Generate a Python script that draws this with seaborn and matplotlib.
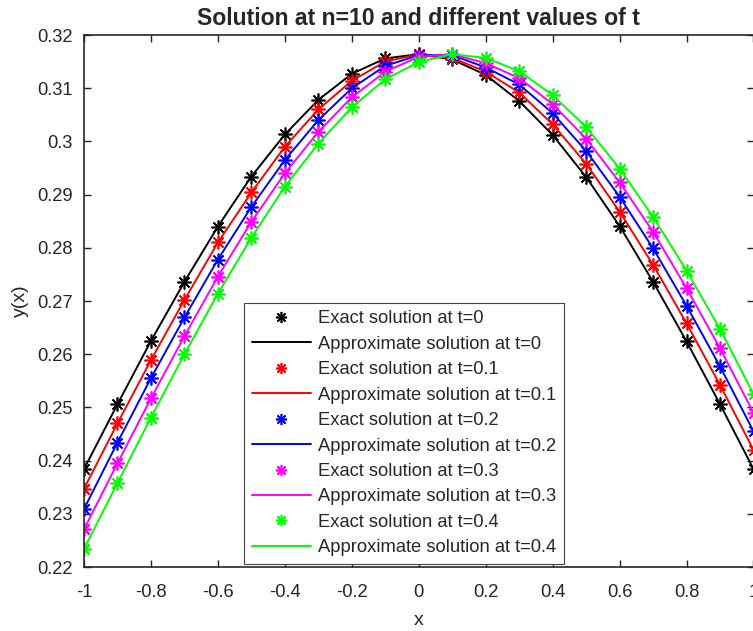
import numpy as np
import pandas as pd
import matplotlib
matplotlib.use("Agg")
import matplotlib.pyplot as plt
import seaborn as sns

x_vals = [-1.0, -0.9, -0.8, -0.7, -0.6, -0.5, -0.4, -0.3, -0.2, -0.1, 0.0,
          0.1, 0.2, 0.3, 0.4, 0.5, 0.6, 0.7, 0.8, 0.9, 1.0]
t_labels = ["0", "0.1", "0.2", "0.3", "0.4"]
y_t0 = [0.2384, 0.2506, 0.2625, 0.2736, 0.2840, 0.2934, 0.3013, 0.3078, 0.3127, 0.3156, 0.3164,
        0.3154, 0.3125, 0.3076, 0.3012, 0.2933, 0.2841, 0.2736, 0.2624, 0.2506, 0.2384]
y_t1 = [0.2347, 0.2470, 0.2589, 0.2702, 0.2810, 0.2904, 0.2990, 0.3060, 0.3114, 0.3150, 0.3164,
        0.3157, 0.3131, 0.3092, 0.3032, 0.2958, 0.2868, 0.2768, 0.2658, 0.2542, 0.2420]
y_t2 = [0.2309, 0.2434, 0.2555, 0.2669, 0.2778, 0.2877, 0.2965, 0.3040, 0.3100, 0.3142, 0.3162,
        0.3162, 0.3139, 0.3107, 0.3053, 0.2982, 0.2896, 0.2799, 0.2691, 0.2577, 0.2455]
y_t3 = [0.2271, 0.2395, 0.2517, 0.2634, 0.2746, 0.2849, 0.2940, 0.3018, 0.3083, 0.3131, 0.3159,
        0.3164, 0.3147, 0.3119, 0.3070, 0.3005, 0.2923, 0.2830, 0.2724, 0.2611, 0.2490]
y_t4 = [0.2234, 0.2358, 0.2481, 0.2600, 0.2714, 0.2819, 0.2915, 0.2996, 0.3064, 0.3117, 0.3149,
        0.3164, 0.3157, 0.3132, 0.3087, 0.3027, 0.2949, 0.2858, 0.2757, 0.2647, 0.2525]
series = [y_t0, y_t1, y_t2, y_t3, y_t4]
colors = ["#000000", "#ff0000", "#0000ff", "#ff00ff", "#00ff00"]

sns.set_style("ticks")
plt.rcParams["font.family"] = ["Liberation Sans", "DejaVu Sans"]
plt.rcParams["xtick.direction"] = "in"
plt.rcParams["ytick.direction"] = "in"

fig = plt.figure(figsize=(7.53, 6.31), dpi=100)
ax = fig.add_axes([84 / 753, 1 - 567 / 631, (753.5 - 84) / 753, (567 - 35) / 631])

for ys, c, t in zip(series, colors, t_labels):
    df = pd.DataFrame({"x": x_vals, "y": ys})
    sns.lineplot(data=df, x="x", y="y", ax=ax, color=c, marker=(8, 2, 0),
                 linestyle="", markersize=10, markeredgecolor=c, markeredgewidth=1.2,
                 sort=False, estimator=None, label=f"Exact solution at t={t}")
    sns.lineplot(data=df, x="x", y="y", ax=ax, color=c, linewidth=1.4,
                 sort=False, estimator=None, label=f"Approximate solution at t={t}")

ax.set_xlim(-1, 1)
ax.set_ylim(0.22, 0.32)
ax.set_xticks(np.arange(-1, 1.01, 0.2))
ax.set_xticklabels(["-1", "-0.8", "-0.6", "-0.4", "-0.2", "0", "0.2", "0.4", "0.6", "0.8", "1"])
ax.set_yticks(np.arange(0.22, 0.3201, 0.01))
ax.set_yticklabels(["0.22", "0.23", "0.24", "0.25", "0.26", "0.27", "0.28", "0.29", "0.3", "0.31", "0.32"])
ax.tick_params(axis="both", labelsize=13.2, top=True, right=True, length=5, width=1)
ax.tick_params(axis="x", pad=12)
ax.tick_params(axis="y", pad=8)
for s in ax.spines.values():
    s.set_linewidth(1.2)
    s.set_visible(True)
ax.set_xlabel("x", fontsize=14, labelpad=8)
ax.set_ylabel("y(x)", fontsize=14, labelpad=6)
ax.set_title("Solution at n=10 and different values of t", fontsize=16.6, fontweight="bold", pad=7)

leg = ax.legend(loc="lower left", bbox_to_anchor=(244 / 753, 1 - 564 / 631),
                bbox_transform=fig.transFigure, fontsize=13.2, frameon=True, fancybox=False,
                framealpha=1, edgecolor="#444444", borderpad=0.42, labelspacing=0.46,
                handlelength=3.25, handletextpad=0.35, borderaxespad=0, markerscale=0.8)
leg.get_frame().set_linewidth(0.8)

fig.savefig("out.png", dpi=100)
